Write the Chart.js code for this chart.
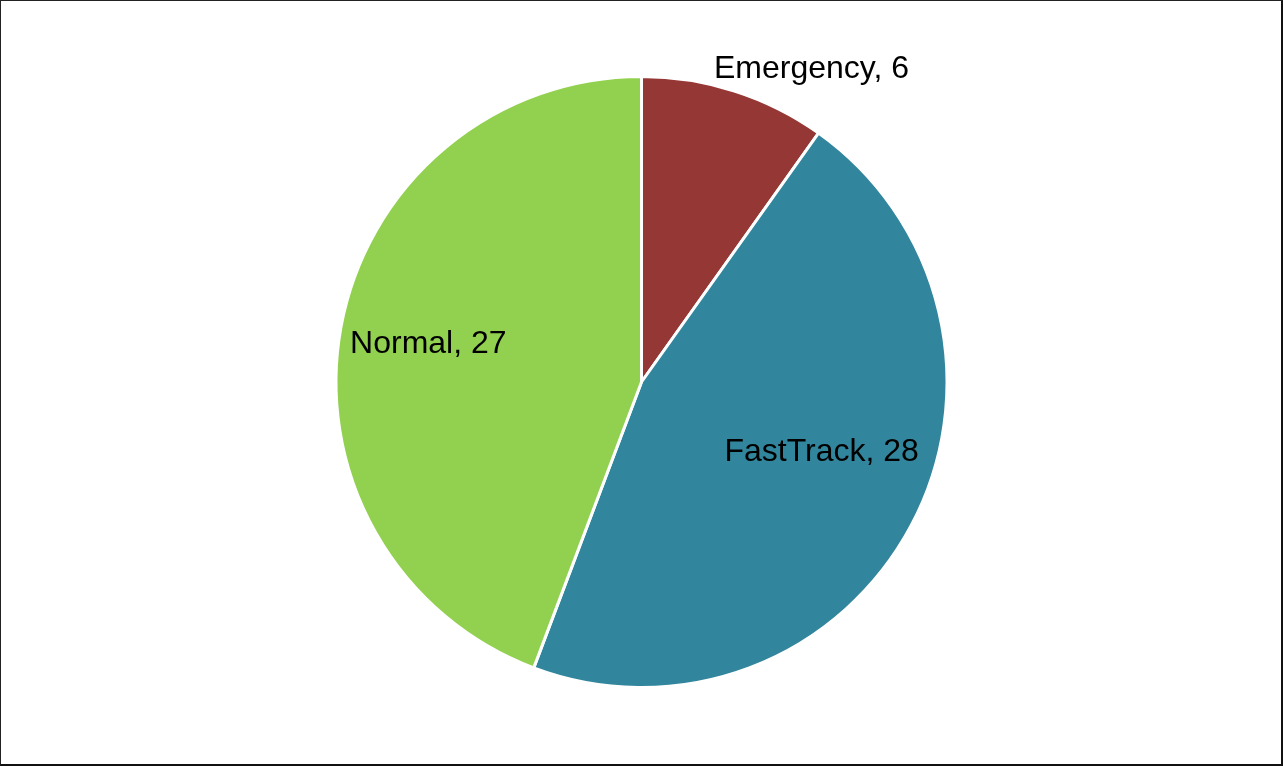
<!DOCTYPE html>
<html>
<head>
<meta charset="utf-8">
<script src="https://cdn.jsdelivr.net/npm/chart.js@4/dist/chart.umd.min.js"></script>
<style>
  html, body { margin: 0; padding: 0; background: #fff; }
  #frame {
    position: absolute; left: 0; top: 0;
    width: 1283px; height: 766px;
    box-sizing: border-box;
    border-left: 1px solid #222; border-top: 1px solid #222;
    border-right: 2px solid #111; border-bottom: 2px solid #111;
  }
  #wrap { position: absolute; left: 0; top: 0; width: 1283px; height: 767px; }
</style>
</head>
<body>
<div id="wrap"><canvas id="myChart"></canvas></div>
<div id="frame"></div>
<script>
const categories = ['Emergency', 'FastTrack', 'Normal'];
const counts = [6, 28, 27];
const sliceColors = ['#953735', '#31859C', '#92D050'];

// where each label sits: fraction of radius, and angle shift (deg) from slice middle
const labelPlace = [
  { r: 1.17, shift: 10.7 },
  { r: 0.63, shift: -7.4 },
  { r: 0.71, shift: 0.3 }
];

const pieLabels = {
  id: 'pieLabels',
  afterDatasetsDraw(chart) {
    const ctx = chart.ctx;
    const arcs = chart.getDatasetMeta(0).data;
    ctx.save();
    ctx.font = '32px "Liberation Sans", Arial, sans-serif';
    ctx.fillStyle = '#000';
    ctx.textAlign = 'center';
    ctx.textBaseline = 'middle';
    arcs.forEach((arc, i) => {
      const p = arc.getProps(['x', 'y', 'startAngle', 'endAngle', 'outerRadius'], true);
      const a = (p.startAngle + p.endAngle) / 2 + labelPlace[i].shift * Math.PI / 180;
      const rr = p.outerRadius * labelPlace[i].r;
      ctx.fillText(categories[i] + ', ' + counts[i], p.x + Math.cos(a) * rr, p.y + Math.sin(a) * rr + 2);
    });
    ctx.restore();
  }
};

const config = {
  type: 'pie',
  data: {
    labels: categories,
    datasets: [{
      data: counts,
      backgroundColor: sliceColors,
      borderColor: '#fff',
      borderWidth: 3,
      hoverOffset: 0
    }]
  },
  options: {
    responsive: true,
    maintainAspectRatio: false,
    animation: false,
    layout: { padding: { top: 75, bottom: 78, left: 0, right: 0 } },
    plugins: {
      legend: { display: false },
      tooltip: { enabled: false }
    }
  },
  plugins: [pieLabels]
};

const ctx = document.getElementById('myChart');
const myChart = new Chart(ctx, config);
</script>
</body>
</html>
